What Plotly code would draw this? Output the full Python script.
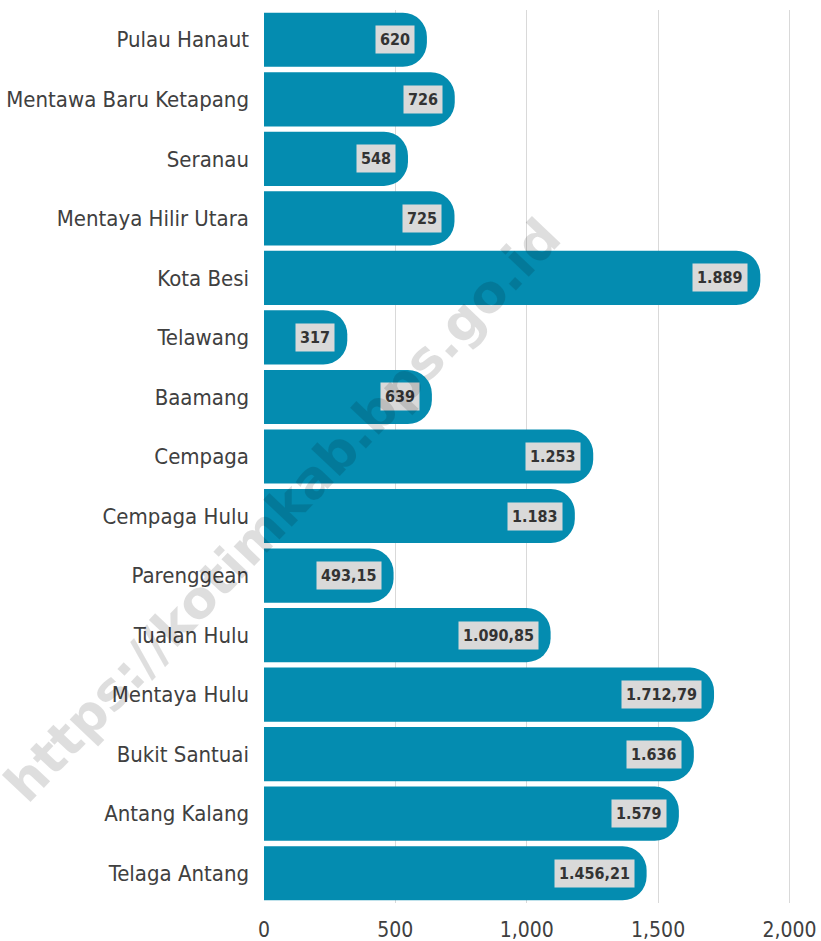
import plotly.graph_objects as go

categories = ["Pulau Hanaut", "Mentawa Baru Ketapang", "Seranau", "Mentaya Hilir Utara",
              "Kota Besi", "Telawang", "Baamang", "Cempaga", "Cempaga Hulu", "Parenggean",
              "Tualan Hulu", "Mentaya Hulu", "Bukit Santuai", "Antang Kalang", "Telaga Antang"]
values = [620, 726, 548, 725, 1889, 317, 639, 1253, 1183, 493.15,
          1090.85, 1712.79, 1636, 1579, 1456.21]
value_labels = ["620", "726", "548", "725", "1.889", "317", "639", "1.253", "1.183", "493,15",
                "1.090,85", "1.712,79", "1.636", "1.579", "1.456,21"]
tick_vals = [0, 500, 1000, 1500, 2000]
tick_text = ["0", "500", "1,000", "1,500", "2,000"]

FONT = "DejaVu Sans Condensed, sans-serif"
BAR = "#048cb0"

fig = go.Figure(go.Bar(
    x=values, y=categories, orientation="h",
    marker=dict(color=BAR, cornerradius=24, line=dict(width=0)),
    hoverinfo="skip",
))

for v, c, t in zip(values, categories, value_labels):
    fig.add_annotation(x=v, y=c, xref="x", yref="y", text="<b>" + t + "</b>",
                       showarrow=False, xanchor="right", xshift=-12,
                       bgcolor="#d9d9d9", borderpad=4,
                       font=dict(family=FONT, size=16, color="#333333"))

fig.add_annotation(x=0.035, y=0.44, xref="paper", yref="paper",
                   xanchor="center", yanchor="middle",
                   text="<b>https://kotimkab.bps.go.id</b>", showarrow=False,
                   textangle=-46.5, font=dict(family="DejaVu Sans, sans-serif", size=52,
                                              color="rgba(0,0,0,0.13)"))

fig.update_layout(
    width=821, height=941,
    margin=dict(l=264, r=21, t=10, b=38),
    paper_bgcolor="white", plot_bgcolor="white",
    bargap=0.09,
    showlegend=False,
    font=dict(family=FONT, color="#333333"),
    xaxis=dict(range=[0, 2040], tickvals=tick_vals, ticktext=tick_text,
               showgrid=True, gridcolor="#d9d9d9", gridwidth=1, zeroline=False,
               showline=False, automargin=False, ticklabelstandoff=12,
               tickfont=dict(size=21, color="#404040")),
    yaxis=dict(autorange="reversed", showgrid=False, showline=False, automargin=False,
               ticklabelstandoff=14, tickfont=dict(size=22, color="#404040")),
)

fig.write_html("out.html", config={"displayModeBar": False},
               post_script="document.body.style.margin='0';document.body.style.overflow='hidden';")
